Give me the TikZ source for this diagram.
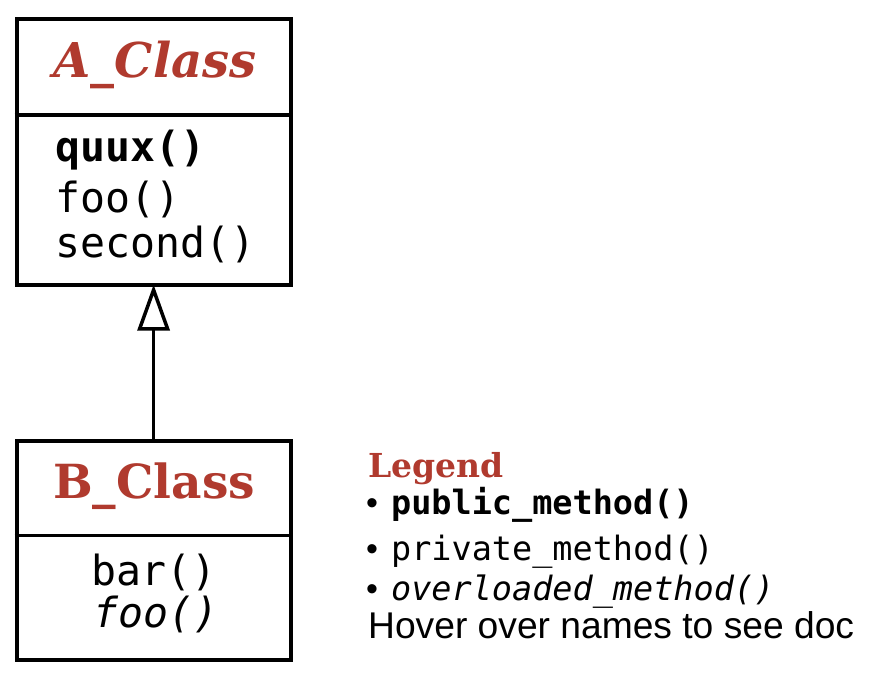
\documentclass[tikz,border=0pt]{standalone}
\usepackage{fontspec}
\usetikzlibrary{arrows.meta}
\setmainfont{Liberation Sans}
\newfontfamily\monof{DejaVu Sans Mono}
\newfontfamily\slabf{DejaVu Serif}
\newfontfamily\hoverf{Liberation Sans}
\definecolor{titlered}{RGB}{176,58,46}
\tikzset{
  classbox/.style={draw=black, line width=4pt, fill=white, minimum width=274pt, inner sep=0pt},
  divider/.style={line width=3.5pt},
  ctitle/.style={inner sep=0pt, anchor=base, text=titlered, font=\slabf\bfseries\fontsize{47}{47}\selectfont},
  method/.style={inner sep=0pt, font=\monof\fontsize{41.5}{41.5}\selectfont},
  legtitle/.style={inner sep=0pt, anchor=base west, text=titlered, font=\slabf\bfseries\fontsize{33}{33}\selectfont},
  legline/.style={inner sep=0pt, anchor=base west, font=\monof\fontsize{33.5}{33.5}\selectfont},
  hover/.style={inner sep=0pt, anchor=base west, font=\hoverf\fontsize{37.2}{37.2}\selectfont},
  inherit/.style={line width=3.5pt, -{Triangle[open, length=46pt 0, width=32pt 0]}, shorten >=-2pt}
}
\newcommand{\bul}{{\hoverf\fontsize{34}{34}\selectfont\textbullet}\hspace{13pt}}
\begin{document}
\begin{tikzpicture}[x=1pt,y=-1pt]
\useasboundingbox (0,0) rectangle (875,679);
% A_Class
\node[classbox, minimum height=266pt] (A) at (153.6,151.6) {};
\draw[divider] (A.west |- 0,115) coordinate (adl) -- (A.east |- 0,115) coordinate (adr);
\node[ctitle, font=\slabf\bfseries\itshape\fontsize{48}{48}\selectfont] (at) at (155,78) {A\_Class};
\node[method, anchor=base west, font=\monof\bfseries\fontsize{41.5}{41.5}\selectfont] (aq) at (55,162) {quux()};
\node[method, anchor=base west] (af) at (55,212) {foo()};
\node[method, anchor=base west] (as) at (55,257) {second()};
% B_Class
\node[classbox, minimum height=219pt] (B) at (153.6,550.1) {};
\draw[divider] (B.west |- 0,535.7) coordinate (bdl) -- (B.east |- 0,535.7) coordinate (bdr);
\node[ctitle] (bt) at (154,498) {B\_Class};
\node[method, anchor=base] (bb) at (154,585) {bar()};
\node[method, anchor=base, font=\monof\itshape\fontsize{41.5}{41.5}\selectfont] (bf) at (156,627) {foo()};
% inheritance
\draw[inherit] (B.north) -- (A.south);
% Legend
\node[legtitle] (lt) at (368,477) {Legend};
\node[legline] (l1) at (366,514) {\bul{\bfseries public\_method()}};
\node[legline] (l2) at (366,560) {\bul private\_method()};
\node[legline] (l3) at (366,600) {\bul{\itshape overloaded\_method()}};
\node[hover] (l4) at (368,638) {Hover over names to see doc};
\end{tikzpicture}
\end{document}
